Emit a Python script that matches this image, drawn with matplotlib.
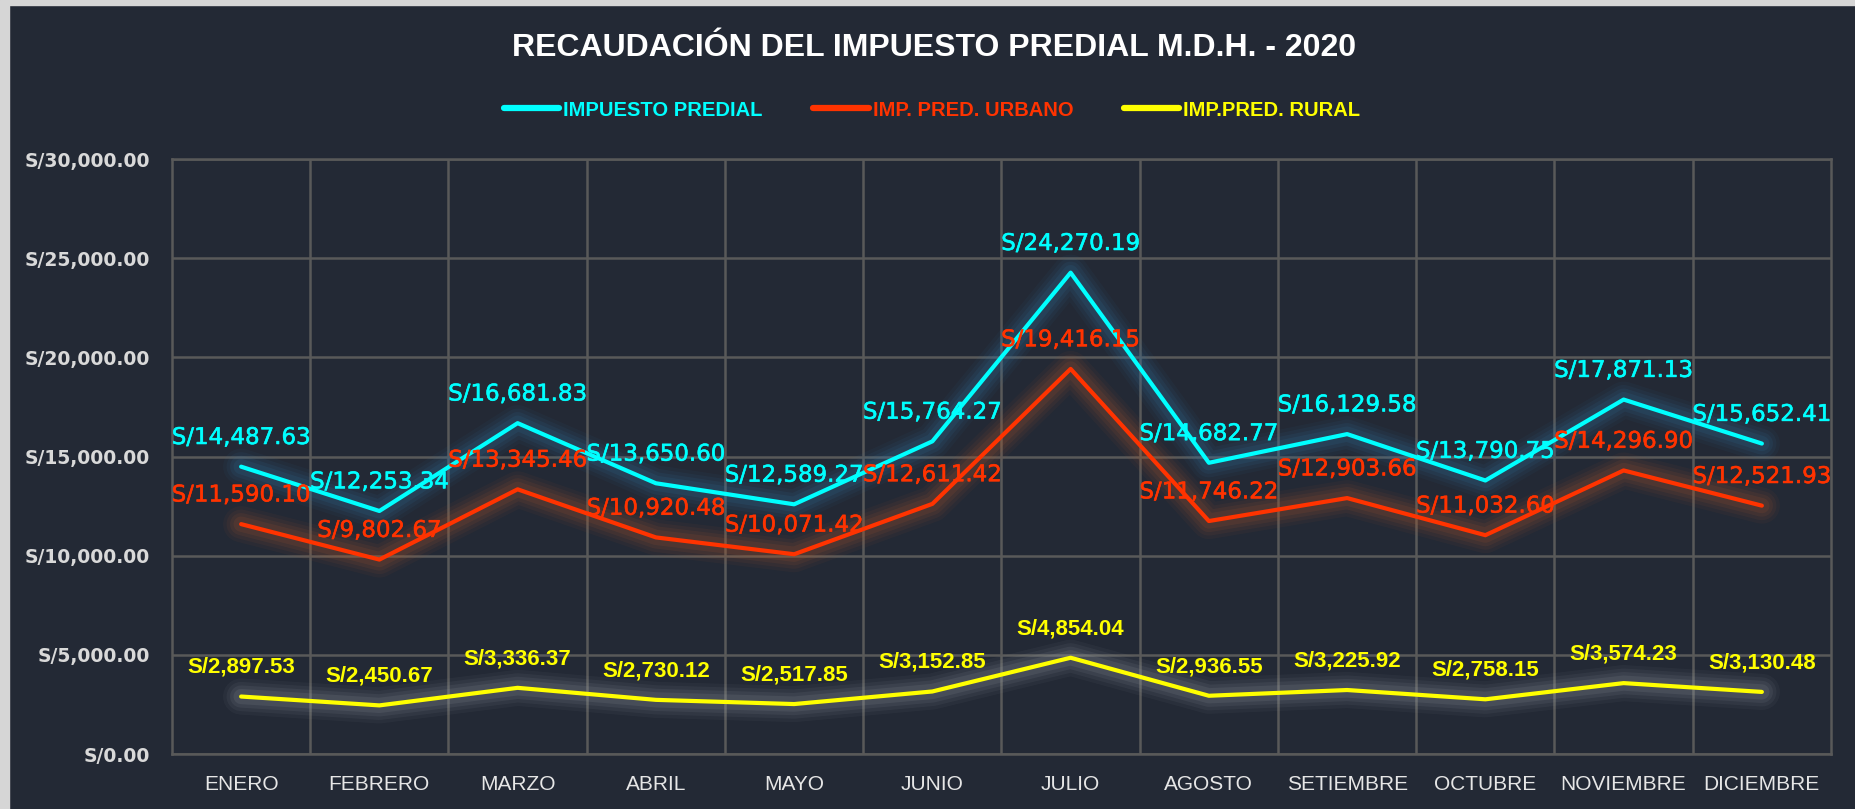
import matplotlib
matplotlib.use("Agg")
import matplotlib.pyplot as plt
import matplotlib.patheffects as pe
from matplotlib import font_manager
from matplotlib.ticker import FuncFormatter, FixedLocator
from matplotlib.patches import Rectangle


def pick_font(names):
    for n in names:
        try:
            font_manager.findfont(font_manager.FontProperties(family=n), fallback_to_default=False)
            return n
        except Exception:
            pass
    return "DejaVu Sans"


meses = ["ENERO", "FEBRERO", "MARZO", "ABRIL", "MAYO", "JUNIO", "JULIO",
         "AGOSTO", "SETIEMBRE", "OCTUBRE", "NOVIEMBRE", "DICIEMBRE"]
predial = [14487.63, 12253.34, 16681.83, 13650.60, 12589.27, 15764.27,
           24270.19, 14682.77, 16129.58, 13790.75, 17871.13, 15652.41]
urbano = [11590.10, 9802.67, 13345.46, 10920.48, 10071.42, 12611.42,
          19416.15, 11746.22, 12903.66, 11032.60, 14296.90, 12521.93]
rural = [2897.53, 2450.67, 3336.37, 2730.12, 2517.85, 3152.85,
         4854.04, 2936.55, 3225.92, 2758.15, 3574.23, 3130.48]
nombres = ["IMPUESTO PREDIAL", "IMP. PRED. URBANO", "IMP.PRED. RURAL"]

BG = "#232935"
GRID = "#595959"
CYAN = "#00ffff"
RED = "#ff3300"
YEL = "#ffff00"

arial = pick_font(["Liberation Sans", "Arial"])
narrow = pick_font(["Liberation Sans Narrow", "Liberation Sans"])
xsize = 16.5 if narrow == "Liberation Sans Narrow" else 15

W, H = 1856, 809
fig = plt.figure(figsize=(W / 100, H / 100), dpi=100, facecolor=BG)
# light frame at top and left
fig.patches.append(Rectangle((0, 1 - 5 / H), 1, 5 / H, transform=fig.transFigure,
                             color="#d6d6d6", zorder=0))
fig.patches.append(Rectangle((0, 0), 9 / W, 1, transform=fig.transFigure,
                             color="#d6d6d6", zorder=0))

ax = fig.add_axes([172 / W, 1 - 754 / H, (1831 - 172) / W, (754 - 159) / H])
ax.set_facecolor(BG)
x = list(range(len(meses)))
ax.set_xlim(-0.5, len(meses) - 0.5)
ax.set_ylim(0, 30000)
ax.set_yticks([0, 5000, 10000, 15000, 20000, 25000, 30000])
ax.yaxis.set_major_formatter(FuncFormatter(lambda v, p: f"S/{v:,.2f}"))
ax.set_xticks(x)
ax.set_xticklabels(meses)
ax.xaxis.set_minor_locator(FixedLocator([i + 0.5 for i in x[:-1]]))
ax.grid(axis="y", which="major", color=GRID, lw=1.8)
ax.grid(axis="x", which="minor", color=GRID, lw=1.8)
ax.set_axisbelow(True)
for s in ax.spines.values():
    s.set_color(GRID)
    s.set_linewidth(1.8)
ax.tick_params(axis="both", which="both", length=0)
ax.tick_params(axis="y", pad=16, labelcolor="#d9d9d9")
ax.tick_params(axis="x", pad=15, labelcolor="#e6e6e6")
for t in ax.get_yticklabels():
    t.set_fontfamily("DejaVu Sans")
    t.set_fontweight("bold")
    t.set_fontsize(13.5)
for t in ax.get_xticklabels():
    t.set_fontfamily(narrow)
    t.set_fontsize(xsize)

series = [
    (predial, CYAN, "#3478a8", nombres[0], "DejaVu Sans", "normal", 16.5),
    (urbano, RED, "#b0582c", nombres[1], "DejaVu Sans", "normal", 16.5),
    (rural, YEL, "#9a9fa8", nombres[2], arial, "bold", 16),
]

for vals, col, glow, name, fam, fw, fs in series:
    for w, a in [(26, 0.06), (21, 0.08), (16, 0.10), (11, 0.13)]:
        ax.plot(x, vals, color=glow, lw=w, alpha=a, solid_capstyle="round",
                solid_joinstyle="round", zorder=2)
    ax.plot(x, vals, color=col, lw=3, solid_capstyle="round", label=name, zorder=3)

for vals, col, glow, name, fam, fw, fs in series:
    for xi, v in zip(x, vals):
        t = ax.annotate(f"S/{v:,.2f}", (xi, v), xytext=(0, 21), textcoords="offset points",
                        ha="center", va="center", color=col, fontsize=fs,
                        fontfamily=fam, fontweight=fw, zorder=5)
        if fw == "normal":
            t.set_path_effects([pe.withStroke(linewidth=0.4, foreground=col)])

fig.text(934 / W, 1 - 48 / H, "RECAUDACIÓN DEL IMPUESTO PREDIAL M.D.H. - 2020",
         ha="center", va="center", color="white", fontsize=23,
         fontfamily=arial, fontweight="bold")

leg = fig.legend(loc="center", bbox_to_anchor=(932 / W, 1 - 110 / H), ncol=3,
                 frameon=False, handlelength=2.75, handletextpad=0.2,
                 columnspacing=2.5, prop={"family": arial, "weight": "bold", "size": 14.5})
for txt, line, (vals, col, *_rest) in zip(leg.get_texts(), leg.get_lines(), series):
    txt.set_color(col)
    line.set_linewidth(4.5)
    line.set_solid_capstyle("round")

fig.savefig("out.png", dpi=100, facecolor=BG)
